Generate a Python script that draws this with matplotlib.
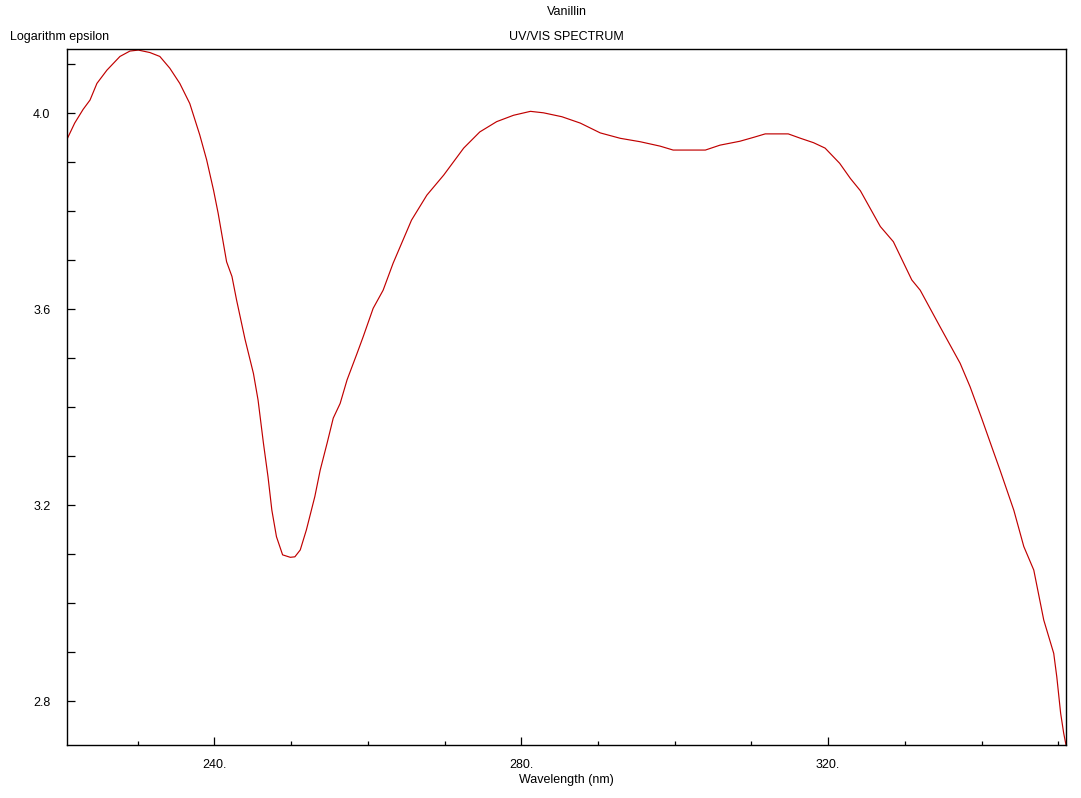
import matplotlib
matplotlib.use("Agg")
import matplotlib.pyplot as plt
from matplotlib.ticker import MultipleLocator, FixedLocator

# Data (wavelength in nm, log epsilon)
wavelength = [220.8, 221.8, 222.9, 223.8, 224.7, 226.0, 227.7, 229.0, 230.1, 231.6,
              232.9, 234.2, 235.5, 236.8, 238.1, 239.0, 239.9, 240.5, 241.6, 242.3,
              242.9, 244.0, 245.1, 245.7, 246.4, 247.0, 247.5, 248.1, 248.9, 249.9,
              250.5, 251.2, 252.0, 253.1, 253.8, 254.7, 255.5, 256.4, 257.3, 258.6,
              259.4, 260.7, 262.0, 263.3, 265.7, 267.7, 269.9, 272.5, 274.6, 276.8,
              279.0, 281.2, 282.9, 285.3, 287.7, 290.3, 292.9, 295.5, 298.1, 299.8,
              304.0, 305.9, 308.5, 310.3, 311.8, 314.8, 316.4, 318.1, 319.6, 321.5,
              322.9, 324.2, 326.8, 328.5, 330.9, 332.0, 334.6, 337.2, 338.5, 340.0,
              341.4, 342.4, 344.2, 345.5, 346.8, 348.1, 349.4, 349.8, 350.3, 350.7,
              351.0]
log_eps = [3.947, 3.980, 4.008, 4.027, 4.061, 4.088, 4.116, 4.127, 4.129, 4.124,
           4.116, 4.092, 4.061, 4.020, 3.956, 3.905, 3.843, 3.796, 3.697, 3.667,
           3.619, 3.539, 3.469, 3.415, 3.327, 3.258, 3.190, 3.136, 3.099, 3.094,
           3.095, 3.109, 3.150, 3.218, 3.272, 3.327, 3.378, 3.408, 3.456, 3.510,
           3.544, 3.602, 3.639, 3.694, 3.782, 3.833, 3.874, 3.929, 3.962, 3.983,
           3.996, 4.004, 4.001, 3.993, 3.980, 3.960, 3.949, 3.942, 3.933, 3.925,
           3.925, 3.935, 3.943, 3.951, 3.958, 3.958, 3.949, 3.940, 3.929, 3.898,
           3.867, 3.842, 3.769, 3.738, 3.660, 3.639, 3.564, 3.490, 3.442, 3.378,
           3.316, 3.272, 3.190, 3.116, 3.068, 2.966, 2.898, 2.850, 2.776, 2.735,
           2.711]

x_major = [240, 280, 320]
x_labels = ["240.", "280.", "320."]
y_major = [2.8, 3.2, 3.6, 4.0]
y_labels = ["2.8", "3.2", "3.6", "4.0"]

FONT = "Liberation Sans"
FS = 9

W, H = 1081, 798
fig = plt.figure(figsize=(W / 100, H / 100), dpi=100)
ax = fig.add_axes([67 / W, (H - 745) / H, (1066 - 67) / W, (745 - 49.3) / H])

ax.plot(wavelength, log_eps, color="#C00000", lw=0.85, solid_joinstyle="round")

ax.set_xlim(220.8, 351.0)
ax.set_ylim(2.711, 4.1306)

ax.xaxis.set_major_locator(FixedLocator(x_major))
ax.set_xticklabels(x_labels, fontsize=FS, family=FONT)
ax.xaxis.set_minor_locator(MultipleLocator(10))
ax.yaxis.set_major_locator(FixedLocator(y_major))
ax.set_yticklabels(y_labels, fontsize=FS, family=FONT)
ax.yaxis.set_minor_locator(MultipleLocator(0.1))

ax.tick_params(axis="x", which="major", direction="in", length=6, width=0.9, pad=10)
ax.tick_params(axis="x", which="minor", direction="in", length=3, width=0.9)
ax.tick_params(axis="y", which="both", direction="in", length=6, width=0.9, pad=12)
ax.tick_params(top=False, right=False, which="both")

for s in ax.spines.values():
    s.set_linewidth(1.0)
    s.set_color("black")

ax.set_xlabel("Wavelength (nm)", fontsize=FS, family=FONT, labelpad=2)

cx = (67 + 1066) / 2 / W
fig.text(cx, 1 - 12 / H, "Vanillin", ha="center", va="center", fontsize=FS, family=FONT)
fig.text(cx, 1 - 37 / H, "UV/VIS SPECTRUM", ha="center", va="center", fontsize=FS, family=FONT)
fig.text(10 / W, 1 - 37 / H, "Logarithm epsilon", ha="left", va="center", fontsize=FS, family=FONT)

fig.savefig("out.png", dpi=100)
